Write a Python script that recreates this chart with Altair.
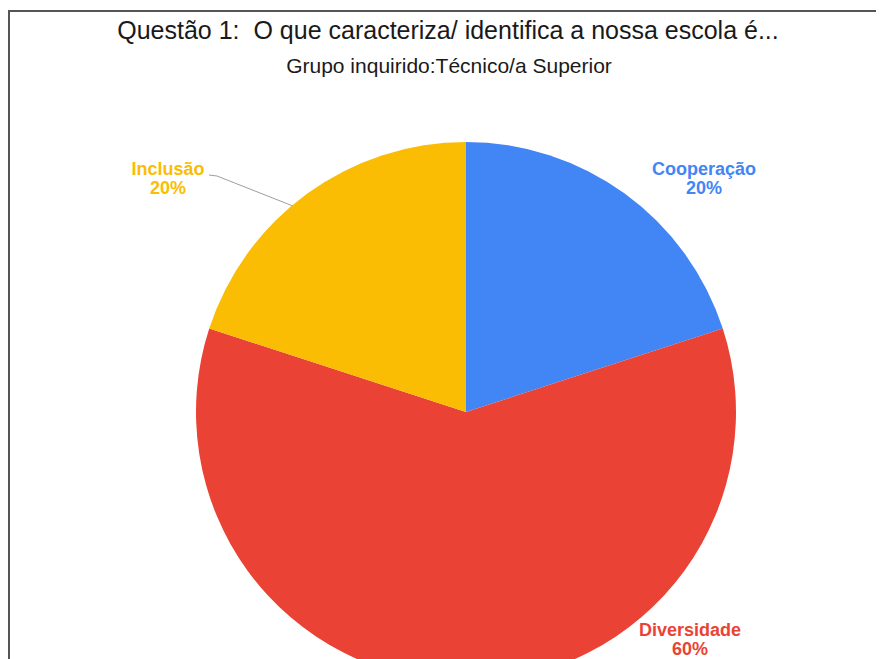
import altair as alt
import pandas as pd

# ---- data ----
categories = ["Cooperação", "Diversidade", "Inclusão"]
values = [1, 3, 1]
colors = ["#4285F4", "#EA4335", "#FBBC04"]
title_text = "Questão 1:\u00a0 O que caracteriza/ identifica a nossa escola é..."
subtitle_text = "Grupo inquirido:Técnico/a Superior"

df = pd.DataFrame({"categoria": categories, "valor": values,
                   "ordem": list(range(len(categories)))})

W, H = 868, 651
CX, CY, R = 458, 404, 270
FONT = "Liberation Sans"

color_scale = alt.Scale(domain=categories, range=colors)

one = pd.DataFrame({"t": [title_text], "s": [subtitle_text]})

# frame lines
frame_top = alt.Chart(one).mark_rule(color="#555555", strokeWidth=2).encode(
    x=alt.value(0), x2=alt.value(W), y=alt.value(3), y2=alt.value(3))
frame_left = alt.Chart(one).mark_rule(color="#555555", strokeWidth=2).encode(
    x=alt.value(1), x2=alt.value(1), y=alt.value(3), y2=alt.value(H))

title = alt.Chart(one).mark_text(
    x=440, y=31, align="center", baseline="alphabetic",
    font=FONT, fontSize=25, color="#1a1a1a").encode(text="t:N")
subtitle = alt.Chart(one).mark_text(
    x=441, y=65, align="center", baseline="alphabetic",
    font=FONT, fontSize=21, color="#1a1a1a").encode(text="s:N")

# leader line for Inclusão
leader1 = alt.Chart(one).mark_rule(color="#9e9e9e", strokeWidth=1).encode(
    x=alt.value(201), x2=alt.value(209), y=alt.value(167), y2=alt.value(168))
leader2 = alt.Chart(one).mark_rule(color="#9e9e9e", strokeWidth=1).encode(
    x=alt.value(209), x2=alt.value(290), y=alt.value(168), y2=alt.value(200))

pie = alt.Chart(df).mark_arc(radius=R, x=CX, y=CY).encode(
    theta=alt.Theta("valor:Q", stack=True),
    color=alt.Color("categoria:N", scale=color_scale, legend=None),
    order=alt.Order("ordem:Q"),
)

labels_base = alt.Chart(df).transform_joinaggregate(
    total="sum(valor)"
).transform_calculate(
    label="datum.categoria + '\\n' + format(datum.valor / datum.total, '.0%')"
)

label_pos = {"Cooperação": (696, 153), "Diversidade": (682, 614), "Inclusão": (160, 153)}
label_layers = []
for cat, (lx, ly) in label_pos.items():
    label_layers.append(
        labels_base.transform_filter(alt.datum.categoria == cat).mark_text(
            x=lx, y=ly, align="center", baseline="top", lineBreak="\n",
            lineHeight=19, font=FONT, fontSize=18, fontWeight="bold",
        ).encode(
            text="label:N",
            color=alt.Color("categoria:N", scale=color_scale, legend=None),
        )
    )

chart = alt.layer(
    frame_top, frame_left, title, subtitle, leader1, leader2, pie, *label_layers
).properties(
    width=W, height=H, padding=0,
    autosize=alt.AutoSizeParams(type="none"),
    background="white",
).configure_view(stroke=None)

chart.save("out.html", embed_options={"renderer": "svg", "actions": False})
